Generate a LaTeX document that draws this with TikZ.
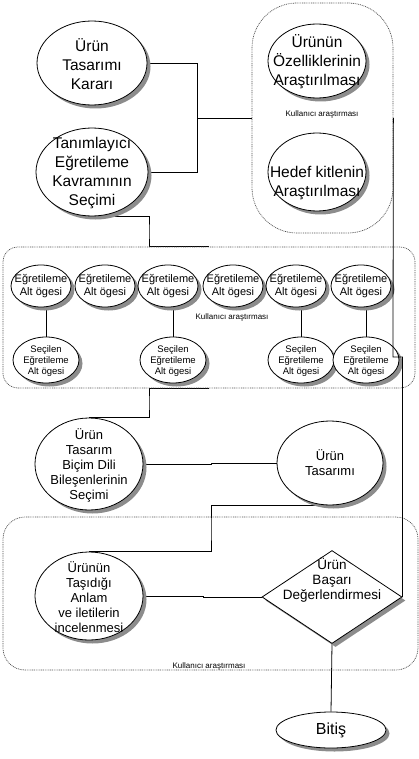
\documentclass[tikz,border=0pt]{standalone}
\usepackage{fontspec}
\setmainfont{Liberation Sans}
\usetikzlibrary{shapes.geometric,shadows,backgrounds}
\newcommand\fsz[2]{\fontsize{#1}{#2}\selectfont}
\begin{document}
\begin{tikzpicture}[x=1pt,y=-1pt,
  shad/.style={drop shadow={shadow xshift=3.5pt,shadow yshift=-3.5pt,fill=black!45,opacity=1}},
  ell/.style 2 args={ellipse,draw,fill=white,line width=0.8pt,inner sep=0pt,
     minimum width=2*#1pt,minimum height=2*#2pt,shad},
  txtA/.style={align=center,inner sep=0pt,font=\fsz{15.5}{19}},
  txtB/.style={align=center,inner sep=0pt,font=\fsz{13}{15}},
  txtC/.style={align=center,inner sep=0pt,font=\fsz{11}{13}},
  txtD/.style={align=center,inner sep=0pt,font=\fsz{9.5}{11}},
  lab/.style={inner sep=0pt,font=\fsz{8}{9}},
  grp/.style={draw=black!70,line width=0.7pt,dash pattern=on 0.9pt off 0.9pt,inner sep=0pt},
  conn/.style={line width=0.8pt}]
\useasboundingbox (0,0) rectangle (419,759);

% groups
\node[grp,rounded corners=45pt,minimum width=141pt,minimum height=230pt] (g1) at (322.5,118) {};
\node[grp,rounded corners=15pt,minimum width=412pt,minimum height=141pt] (g2) at (209,317.5) {};
\node[grp,rounded corners=22pt,minimum width=415pt,minimum height=153pt] (g3) at (210.5,593.5) {};

% top
\node[ell={55}{42}] (e1) at (92,63) {};
\node[txtA] (t1) at (92,64) {Ürün\\Tasarımı\\Kararı};
\node[ell={56}{44}] (e2) at (92,172) {};
\node[txtA] (t2) at (92,173) {Tanımlayıcı\\Eğretileme\\Kavramının\\Seçimi};
\node[ell={49}{37}] (eo) at (317,61) {};
\node[txtA] (to) at (317,62) {Ürünün\\Özelliklerinin\\Araştırılması};
\node[ell={49}{39}] (eh) at (317,172) {};
\node[txtA] (th) at (317,183) {Hedef kitlenin\\Araştırılması};
\node[lab] (l1) at (322,114) {Kullanıcı araştırması};

% row 1
\foreach \i/\x in {1/41,2/105,3/168,4/233,5/296,6/361}{
  \node[ell={30}{21}] (r\i) at (\x,286) {};
  \node[txtC] (rt\i) at (\x,286) {Eğretileme\\Alt ögesi};
}
% row 2
\foreach \i/\x in {1/46,2/173,3/301,4/366}{
  \node[ell={33}{23}] (s\i) at (\x,360) {};
  \node[txtD] (st\i) at (\x,361) {Seçilen\\Eğretileme\\Alt ögesi};
}
\node[lab] (l2) at (232,317) {Kullanıcı araştırması};

% middle
\node[ell={54}{46}] (e3) at (89,464) {};
\node[txtB] (t3) at (89,465) {Ürün\\Tasarım\\Biçim Dili\\Bileşenlerinin\\Seçimi};
\node[ell={53}{42}] (e4) at (330,463) {};
\node[txtB] (t4) at (330,463) {Ürün\\Tasarımı};

% bottom
\node[ell={54}{44}] (e5) at (89,596) {};
\node[txtB] (t5) at (89,597) {Ürünün\\Taşıdığı\\Anlam\\ve iletilerin\\incelenmesi};
\node[diamond,draw,fill=white,line width=0.8pt,inner sep=0pt,minimum width=140pt,minimum height=93pt,shad] (d) at (332,597) {};
\node[txtB,font=\fsz{13.5}{15}] (td) at (332,580) {Ürün\\Başarı\\Değerlendirmesi};
\node[lab] (l3) at (209,666) {Kullanıcı araştırması};
\node[ell={55}{18}] (b) at (331,730) {};
\node[txtA,font=\fsz{16}{19}] (tb) at (331,730) {Bitiş};

\coordinate (j1) at (197,118);
\coordinate (j2) at (149,232);
\coordinate (j3) at (149,403);
\coordinate (j3b) at (211,463.5);
\coordinate (j4) at (211,530);
\coordinate (j5) at (203,597);
\coordinate (j6) at (393,357);

\begin{scope}[on background layer]
\draw[conn] (e1.east) -| (j1) -- (g1.west);
\draw[conn] (e2.east) -| (j1);
\draw[conn] (e2.south) -| (j2) |- (g2.north);
\foreach \a/\b in {1/1,2/3,3/5,4/6}{
  \draw[conn] (s\a.north) -- (s\a.north |- r\b.south);
}
\draw[conn] (g2.south) -| (j3) |- (e3.north);
\draw[conn] (e3.east) -| (j3b) |- (e4.west);
\draw[conn] (e4.south) -| (j4) |- (e5.north);
\draw[conn] (e5.east) -| (j5) |- (d.west);
\draw[conn] (d.south) -- (b.north);
\end{scope}
\draw[conn] (g1.east) -- (j6) -| (d.east);
\end{tikzpicture}
\end{document}
